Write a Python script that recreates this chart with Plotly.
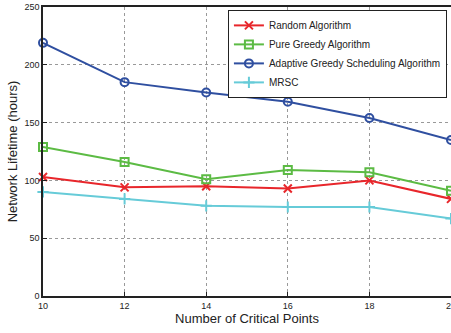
import plotly.graph_objects as go

x = [10, 12, 14, 16, 18, 20]
random_alg = [103, 94, 95, 93, 100, 84]
pure_greedy = [129, 116, 101, 109, 107, 91]
adaptive = [219, 185, 176, 168, 154, 135]
mrsc = [90, 84, 78, 77, 77, 67]

series = [
    ("Random Algorithm", random_alg, "#e8262b", "x-thin-open"),
    ("Pure Greedy Algorithm", pure_greedy, "#5cbb44", "square-open"),
    ("Adaptive Greedy Scheduling Algorithm", adaptive, "#2f4fa0", "circle-open"),
    ("MRSC", mrsc, "#66cbd8", "cross-thin-open"),
]

fig = go.Figure()
for name, ys, color, sym in series:
    fig.add_trace(go.Scatter(
        x=x, y=ys, name=name, mode="lines+markers",
        line=dict(color=color, width=2),
        marker=dict(symbol=sym, size=8, color=color, line=dict(color=color, width=2)),
        cliponaxis=False,
    ))

fig.update_layout(
    width=451, height=333,
    margin=dict(l=43, r=0, t=7, b=37),
    paper_bgcolor="white", plot_bgcolor="white",
    font=dict(family="Liberation Sans, Arial, sans-serif", color="#222"),
    showlegend=True,
    legend=dict(x=0.99, y=0.99, xanchor="right", yanchor="top",
                bgcolor="white", bordercolor="#222", borderwidth=1,
                font=dict(size=10), tracegroupgap=0, itemwidth=30,
                ),
)
fig.update_xaxes(
    range=[10, 20], tickvals=x, ticktext=[str(v) for v in x],
    showline=True, linecolor="#222", linewidth=1.5, mirror=True,
    ticks="inside", ticklen=4, tickcolor="#222",
    showgrid=True, gridcolor="#999", griddash="dot", gridwidth=1,
    zeroline=False, tickfont=dict(size=9), automargin=False,
    ticklabeloverflow="allow",
    title=dict(text="Number of Critical Points", font=dict(size=13), standoff=0),
)
fig.update_yaxes(
    range=[0, 250], tickvals=[0, 50, 100, 150, 200, 250],
    showline=True, linecolor="#222", linewidth=1.5, mirror=True,
    ticks="inside", ticklen=4, tickcolor="#222",
    showgrid=True, gridcolor="#999", griddash="dot", gridwidth=1,
    zeroline=False, tickfont=dict(size=9), automargin=False,
    ticklabeloverflow="allow",
    title=dict(text="Network Lifetime (hours)", font=dict(size=13), standoff=4),
)
fig.write_html("out.html", config={"displayModeBar": False},
               post_script="document.body.style.margin='0';document.body.style.overflow='hidden';")
